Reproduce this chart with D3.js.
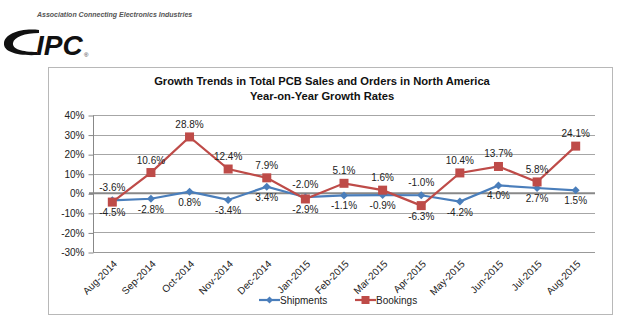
<!DOCTYPE html>
<html>
<head>
<meta charset="utf-8">
<script src="https://cdn.jsdelivr.net/npm/d3@7"></script>
<style>
  body { margin: 0; background: #fff; font-family: "Liberation Sans", Arial, sans-serif; }
</style>
</head>
<body>
<div id="chart"></div>
<script>
// 数据
var months = ["Aug-2014", "Sep-2014", "Oct-2014", "Nov-2014", "Dec-2014", "Jan-2015", "Feb-2015",
    "Mar-2015", "Apr-2015", "May-2015", "Jun-2015", "Jul-2015", "Aug-2015"];
var shipments = [-3.6, -2.8, 0.8, -3.4, 3.4, -2.0, -1.1, -0.9, -1.0, -4.2, 4.0, 2.7, 1.5];
var bookings = [-4.5, 10.6, 28.8, 12.4, 7.9, -2.9, 5.1, 1.6, -6.3, 10.4, 13.7, 5.8, 24.1];
var yTicks = [40, 30, 20, 10, 0, -10, -20, -30];

var W = 620, H = 325;
var plot = {left: 93, right: 595, top: 115, bottom: 252};

var svg = d3.select("#chart").append("svg")
    .attr("width", W)
    .attr("height", H);

// 左上角 logo
svg.append("text")
    .attr("x", 37).attr("y", 17)
    .attr("font-size", 7)
    .attr("font-style", "italic")
    .attr("font-weight", "bold")
    .attr("fill", "#555")
    .text("Association Connecting Electronics Industries");

svg.append("path")
    .attr("d", "M39,30 C20,28 5,34 4,43 C3,52 18,56 37,55 L37,52 C22,52 12,49 13,43 C14,37 25,33 39,33 Z")
    .attr("fill", "#111");
svg.append("text")
    .attr("x", 36).attr("y", 55)
    .attr("font-size", 28)
    .attr("font-style", "italic")
    .attr("font-weight", "bold")
    .attr("fill", "#111")
    .text("IPC");
svg.append("text")
    .attr("x", 84).attr("y", 57)
    .attr("font-size", 6)
    .attr("fill", "#333")
    .text("®");

// 图表外框
svg.append("rect")
    .attr("x", 48.5).attr("y", 67.5)
    .attr("width", 564).attr("height", 247)
    .attr("fill", "none")
    .attr("stroke", "#b8b8b8");

// 标题
var title = svg.append("text")
    .attr("text-anchor", "middle")
    .attr("font-size", 11.2)
    .attr("font-weight", "bold")
    .attr("fill", "#111");
title.append("tspan").attr("x", 322).attr("y", 85)
    .text("Growth Trends in Total PCB Sales and Orders in North America");
title.append("tspan").attr("x", 322).attr("y", 100)
    .text("Year-on-Year Growth Rates");

// 比例尺
var x = d3.scaleBand().domain(months).range([plot.left, plot.right]);
var y = d3.scaleLinear().domain([-30, 40]).range([plot.bottom, plot.top]);
function cx(d, i) { return x(months[i]) + x.bandwidth() / 2; }

// 网格线
svg.append("g")
    .selectAll("line")
    .data(yTicks.filter(function (d) { return d !== -30 && d !== 0; }))
    .enter().append("line")
    .attr("x1", plot.left).attr("x2", plot.right)
    .attr("y1", function (d) { return Math.round(y(d)) + 0.5; })
    .attr("y2", function (d) { return Math.round(y(d)) + 0.5; })
    .attr("stroke", "#a6a6a6")
    .attr("stroke-width", 1);

// y 轴
var yAxis = svg.append("g")
    .attr("transform", "translate(" + (plot.left + 0.5) + ",0.5)")
    .call(d3.axisLeft(y).tickValues(yTicks).tickSize(5).tickPadding(4)
        .tickFormat(function (d) { return d + "%"; }));
yAxis.select(".domain").attr("stroke", "#888").attr("d", "M0," + Math.round(plot.top) + "V" + Math.round(plot.bottom));
yAxis.selectAll(".tick line").attr("stroke", "#888");
yAxis.selectAll("text")
    .attr("font-size", 10)
    .attr("font-family", "Liberation Sans, Arial, sans-serif")
    .attr("fill", "#222");

// 底边线 和 零线
svg.append("line")
    .attr("x1", plot.left).attr("x2", plot.right)
    .attr("y1", Math.round(y(-30)) + 0.5).attr("y2", Math.round(y(-30)) + 0.5)
    .attr("stroke", "#999");
svg.append("line")
    .attr("x1", plot.left - 4).attr("x2", plot.right)
    .attr("y1", y(0)).attr("y2", y(0))
    .attr("stroke", "#888")
    .attr("stroke-width", 2);

// x 轴标签
svg.append("g")
    .selectAll("text")
    .data(months)
    .enter().append("text")
    .attr("transform", function (d) {
        return "translate(" + (x(d) + x.bandwidth() / 2 + 3) + "," + (plot.bottom + 10) + ") rotate(-45)";
    })
    .attr("text-anchor", "end")
    .attr("dy", "0.35em")
    .attr("font-size", 10)
    .attr("fill", "#222")
    .text(function (d) { return d; });

var line = d3.line()
    .x(function (d, i) { return cx(d, i); })
    .y(function (d) { return y(d); });

var blue = "#4a7ebb", red = "#be4b48";

// 折线
svg.append("path")
    .datum(shipments)
    .attr("d", line)
    .attr("fill", "none")
    .attr("stroke", blue)
    .attr("stroke-width", 2.2);
svg.append("path")
    .datum(bookings)
    .attr("d", line)
    .attr("fill", "none")
    .attr("stroke", red)
    .attr("stroke-width", 2.2);

// 标记点
svg.append("g")
    .selectAll("path")
    .data(shipments)
    .enter().append("path")
    .attr("transform", function (d, i) { return "translate(" + cx(d, i) + "," + y(d) + ")"; })
    .attr("d", "M0,-4L4,0L0,4L-4,0Z")
    .attr("fill", blue);
svg.append("g")
    .selectAll("rect")
    .data(bookings)
    .enter().append("rect")
    .attr("x", function (d, i) { return cx(d, i) - 4.5; })
    .attr("y", function (d) { return y(d) - 4.5; })
    .attr("width", 9).attr("height", 9)
    .attr("fill", red);

// 数据标签: 较高的值在上方, 较低的在下方
function addLabels(values, other) {
    svg.append("g")
        .selectAll("text")
        .data(values)
        .enter().append("text")
        .attr("x", function (d, i) { return cx(d, i); })
        .attr("y", function (d, i) {
            return d >= other[i] ? y(d) - 9 : y(d) + 14;
        })
        .attr("text-anchor", "middle")
        .attr("font-size", 10)
        .attr("fill", "#222")
        .text(function (d) { return d.toFixed(1) + "%"; });
}
addLabels(shipments, bookings);
addLabels(bookings, shipments);

// 图例
var legend = svg.append("g").attr("transform", "translate(0,300)");
var legendItems = [["Shipments", blue, "diamond", 259], ["Bookings", red, "square", 355]];
legendItems.forEach(function (item) {
    var g = legend.append("g").attr("transform", "translate(" + item[3] + ",0)");
    g.append("line").attr("x1", 0).attr("x2", 21).attr("y1", 0).attr("y2", 0)
        .attr("stroke", item[1]).attr("stroke-width", 2.2);
    if (item[2] === "diamond") {
        g.append("path").attr("d", "M10.5,-3.5L14,0L10.5,3.5L7,0Z").attr("fill", item[1]);
    } else {
        g.append("rect").attr("x", 6.5).attr("y", -4).attr("width", 8).attr("height", 8).attr("fill", item[1]);
    }
    g.append("text").attr("x", 21).attr("y", 0).attr("dy", "0.35em")
        .attr("font-size", 10).attr("fill", "#222").text(item[0]);
});
</script>
</body>
</html>
